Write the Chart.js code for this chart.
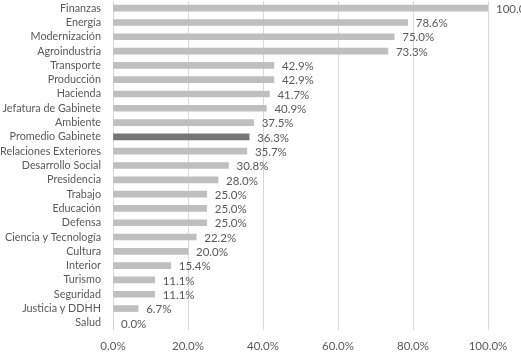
<!DOCTYPE html>
<html>
<head>
<meta charset="utf-8">
<script src="https://cdn.jsdelivr.net/npm/chart.js@4"></script>
<style>
  html, body { margin: 0; padding: 0; background: #ffffff; }
  #wrap { width: 521px; height: 359px; }
</style>
</head>
<body>
<div id="wrap"><canvas id="chart" width="521" height="359"></canvas></div>
<script>
// Categories, top to bottom
const categories = [
    'Finanzas', 'Energía', 'Modernización', 'Agroindustria', 'Transporte',
    'Producción', 'Hacienda', 'Jefatura de Gabinete', 'Ambiente', 'Promedio Gabinete',
    'Relaciones Exteriores', 'Desarrollo Social', 'Presidencia', 'Trabajo', 'Educación',
    'Defensa', 'Ciencia y Tecnología', 'Cultura', 'Interior', 'Turismo',
    'Seguridad', 'Justicia y DDHH', 'Salud'
];
const values = [
    100.0, 78.6, 75.0, 73.3, 42.9,
    42.9, 41.7, 40.9, 37.5, 36.3,
    35.7, 30.8, 28.0, 25.0, 25.0,
    25.0, 22.2, 20.0, 15.4, 11.1,
    11.1, 6.7, 0.0
];
const xTicks = [0, 20, 40, 60, 80, 100];
const highlight = 'Promedio Gabinete';

const barColors = categories.map(c => c === highlight ? '#767676' : '#bfbfbf');
const fontFamily = 'Lato, "Open Sans", sans-serif';

// Draw value labels at the end of each bar
const valueLabels = {
    id: 'valueLabels',
    afterDatasetsDraw(chart) {
        const ctx = chart.ctx;
        const meta = chart.getDatasetMeta(0);
        ctx.save();
        ctx.font = '11.5px ' + fontFamily;
        ctx.fillStyle = '#595959';
        ctx.textAlign = 'left';
        ctx.textBaseline = 'middle';
        meta.data.forEach((bar, i) => {
            ctx.fillText(values[i].toFixed(1) + '%', bar.x + 8, bar.y + 1);
        });
        ctx.restore();
    }
};

const ctx = document.getElementById('chart').getContext('2d');
new Chart(ctx, {
    type: 'bar',
    data: {
        labels: categories,
        datasets: [{
            data: values,
            backgroundColor: barColors,
            barThickness: 6
        }]
    },
    options: {
        indexAxis: 'y',
        responsive: false,
        animation: false,
        layout: { padding: { top: 1, right: 33, left: 0, bottom: 0 } },
        plugins: {
            legend: { display: false },
            tooltip: { enabled: false }
        },
        scales: {
            x: {
                min: 0,
                max: 100,
                afterBuildTicks(scale) {
                    scale.ticks = xTicks.map(v => ({ value: v }));
                },
                afterFit(scale) { scale.height = 29; },
                grid: { color: '#d9d9d9', drawTicks: false },
                border: { display: false },
                ticks: {
                    padding: 9,
                    color: '#595959',
                    font: { family: fontFamily, size: 11.5 },
                    callback: v => v.toFixed(1) + '%'
                }
            },
            y: {
                afterFit(scale) {
                    scale.width = 113;
                    scale.paddingTop = 0;
                    scale.paddingBottom = 0;
                },
                grid: { display: false, drawTicks: false },
                border: { display: false },
                ticks: {
                    padding: 12,
                    color: '#595959',
                    autoSkip: false,
                    font: { family: fontFamily, size: 10.8 }
                }
            }
        }
    },
    plugins: [valueLabels]
});
</script>
</body>
</html>
